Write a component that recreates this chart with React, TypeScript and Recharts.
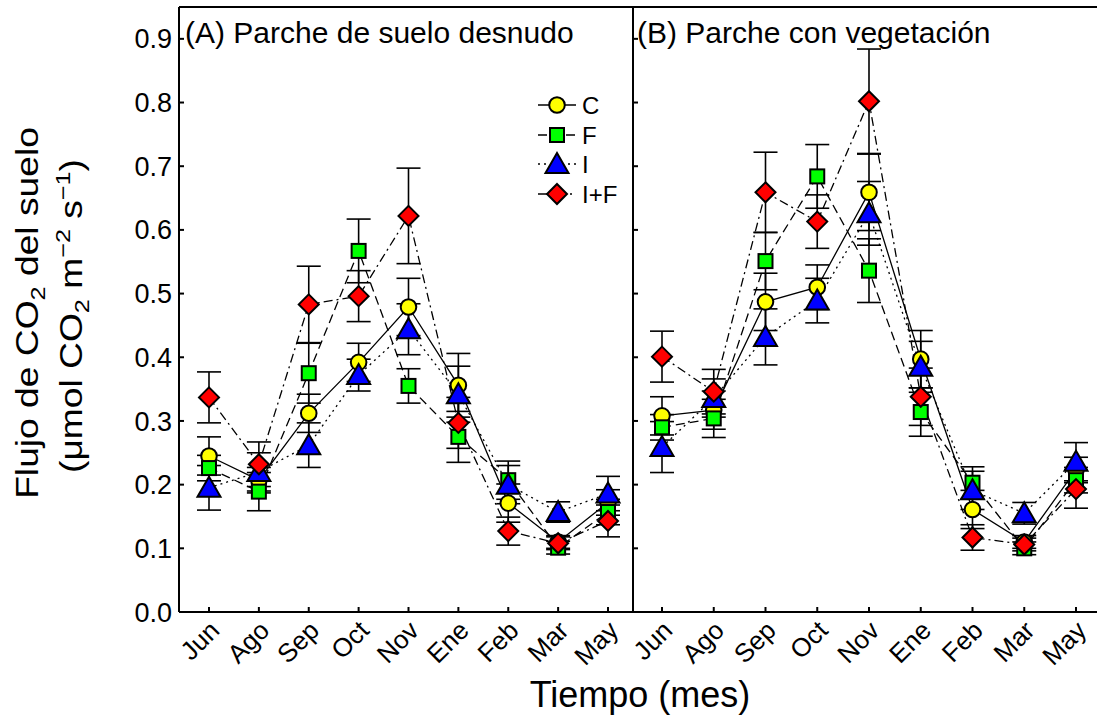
import React from 'react';
import { LineChart, Line, XAxis, YAxis, ErrorBar, ReferenceLine } from 'recharts';

const months = ['Jun', 'Ago', 'Sep', 'Oct', 'Nov', 'Ene', 'Feb', 'Mar', 'May'];
const yTicks = [0, 0.1, 0.2, 0.3, 0.4, 0.5, 0.6, 0.7, 0.8, 0.9];
const yTop = 0.95;

// (A) Parche de suelo desnudo
const bareC = [0.245, 0.207, 0.312, 0.392, 0.479, 0.356, 0.171, 0.11, 0.172];
const bareF = [0.226, 0.189, 0.375, 0.567, 0.355, 0.275, 0.207, 0.101, 0.157];
const bareI = [0.195, 0.22, 0.262, 0.372, 0.444, 0.342, 0.2, 0.157, 0.186];
const bareIF = [0.337, 0.232, 0.483, 0.496, 0.622, 0.297, 0.127, 0.108, 0.143];
const bareSeC = [0.03, 0.02, 0.03, 0.03, 0.045, 0.05, 0.03, 0.01, 0.02];
const bareSeF = [0.02, 0.03, 0.047, 0.05, 0.027, 0.04, 0.03, 0.01, 0.02];
const bareSeI = [0.035, 0.03, 0.035, 0.025, 0.04, 0.044, 0.03, 0.016, 0.027];
const bareSeIF = [0.04, 0.035, 0.06, 0.04, 0.075, 0.04, 0.022, 0.01, 0.025];

// (B) Parche con vegetación
const vegC = [0.308, 0.317, 0.487, 0.51, 0.659, 0.397, 0.161, 0.11, 0.223];
const vegF = [0.29, 0.304, 0.551, 0.684, 0.536, 0.314, 0.203, 0.1, 0.207];
const vegI = [0.259, 0.336, 0.432, 0.489, 0.626, 0.385, 0.191, 0.155, 0.236];
const vegIF = [0.401, 0.346, 0.659, 0.613, 0.802, 0.338, 0.117, 0.106, 0.193];
const vegSeC = [0.03, 0.03, 0.045, 0.035, 0.06, 0.045, 0.03, 0.01, 0.02];
const vegSeF = [0.02, 0.03, 0.045, 0.05, 0.05, 0.038, 0.025, 0.01, 0.02];
const vegSeI = [0.04, 0.03, 0.044, 0.035, 0.05, 0.04, 0.03, 0.017, 0.03];
const vegSeIF = [0.04, 0.035, 0.063, 0.042, 0.082, 0.045, 0.02, 0.01, 0.03];

const buildData = (
  c: number[], f: number[], i: number[], inf: number[],
  sc: number[], sf: number[], si: number[], sif: number[]
) =>
  months.map((m, k) => ({
    month: m, C: c[k], F: f[k], I: i[k], IF: inf[k],
    seC: sc[k], seF: sf[k], seI: si[k], seIF: sif[k],
  }));

const dataA = buildData(bareC, bareF, bareI, bareIF, bareSeC, bareSeF, bareSeI, bareSeIF);
const dataB = buildData(vegC, vegF, vegI, vegIF, vegSeC, vegSeF, vegSeI, vegSeIF);

const FONT = '"Liberation Sans", Arial, Helvetica, sans-serif';
const YELLOW = '#ffff00';
const GREEN = '#00ff00';
const BLUE = '#0000ff';
const RED = '#ff0000';

const circleShape = (cx: number, cy: number, key?: any) => (
  <circle key={key} cx={cx} cy={cy} r={7.8} fill={YELLOW} stroke="#000" strokeWidth={2} />
);
const squareShape = (cx: number, cy: number, key?: any) => (
  <rect key={key} x={cx - 7} y={cy - 7} width={14} height={14} fill={GREEN} stroke="#000" strokeWidth={2} />
);
const triangleShape = (cx: number, cy: number, key?: any) => (
  <polygon key={key} points={`${cx},${cy - 11} ${cx - 11.5},${cy + 9} ${cx + 11.5},${cy + 9}`} fill={BLUE} stroke="#000" strokeWidth={2} strokeLinejoin="miter" />
);
const diamondShape = (cx: number, cy: number, key?: any) => (
  <polygon key={key} points={`${cx},${cy - 10} ${cx + 10},${cy} ${cx},${cy + 10} ${cx - 10},${cy}`} fill={RED} stroke="#000" strokeWidth={2} />
);

const makeDot = (shape: (cx: number, cy: number, key?: any) => any) => (props: any) => {
  const { cx, cy, index } = props;
  if (cx == null || cy == null) return <g key={`e${index}`} />;
  return shape(cx, cy, `d${index}`);
};

const series = [
  { key: 'C', se: 'seC', dash: undefined as string | undefined, shape: circleShape, name: 'C' },
  { key: 'F', se: 'seF', dash: '9 5', shape: squareShape, name: 'F' },
  { key: 'I', se: 'seI', dash: '2 4', shape: triangleShape, name: 'I' },
  { key: 'IF', se: 'seIF', dash: '9 4 2 4', shape: diamondShape, name: 'I+F' },
];

const MonthTick = (props: any) => {
  const { x, y, payload } = props;
  const ax = x + 12;
  const ay = y;
  return (
    <text x={ax} y={ay} textAnchor="end" fontSize={26} fontFamily={FONT} fill="#000"
      transform={`rotate(-45, ${ax}, ${ay})`}>
      {payload.value}
    </text>
  );
};

const renderLines = () =>
  series.map((s) => (
    <Line
      key={s.key}
      dataKey={s.key}
      stroke="#000"
      strokeWidth={1.3}
      strokeDasharray={s.dash}
      dot={makeDot(s.shape)}
      activeDot={false}
      isAnimationActive={false}
    >
      <ErrorBar dataKey={s.se} width={12} stroke="#000" strokeWidth={1.6} direction="y" />
    </Line>
  ));

const Panel = ({ data, width, yAxisWidth, showLabels, padL, padR }: any) => (
  <LineChart width={width} height={718} data={data}
    margin={{ top: 7, right: showLabels ? 7 : 0, bottom: 46, left: 0 }}>
    <XAxis dataKey="month" height={60} padding={{ left: padL, right: padR }}
      axisLine={{ stroke: '#000', strokeWidth: 2 }}
      tickLine={{ stroke: '#000', strokeWidth: 2 }}
      tickSize={-5} tickMargin={25} tick={<MonthTick />} interval={0} />
    <YAxis width={yAxisWidth} domain={[0, yTop]} ticks={yTicks} allowDataOverflow
      axisLine={{ stroke: '#000', strokeWidth: 2 }}
      tickLine={{ stroke: '#000', strokeWidth: 2 }}
      tickSize={-5} tickMargin={12} interval={0}
      tickFormatter={(v: number) => (showLabels ? v.toFixed(1) : '')}
      tick={{ fontSize: 27, fill: '#000', fontFamily: FONT }} />
    <ReferenceLine y={yTop} stroke="#000" strokeWidth={2} ifOverflow="extendDomain" />
    {renderLines()}
  </LineChart>
);

const LegendRows = () => {
  const rows = [
    { s: series[0], y: 105 },
    { s: series[1], y: 135 },
    { s: series[2], y: 164 },
    { s: series[3], y: 194 },
  ];
  return (
    <g>
      {rows.map((r) => (
        <g key={r.s.key}>
          <line x1={538} x2={576} y1={r.y} y2={r.y} stroke="#000" strokeWidth={1.3}
            strokeDasharray={r.s.dash} />
          {r.s.shape(557, r.y)}
          <text x={582} y={r.y} dy="0.36em" fontSize={24} fontFamily={FONT} fill="#000">{r.s.name}</text>
        </g>
      ))}
    </g>
  );
};

export default function App() {
  return (
    <div style={{ position: 'absolute', left: 0, top: 0, width: 1097, height: 718, background: '#fff', overflow: 'hidden' }}>
      <div style={{ position: 'absolute', left: 0, top: 0 }}>
        <Panel data={dataA} width={640} yAxisWidth={179} showLabels padL={30} padR={25} />
      </div>
      <div style={{ position: 'absolute', left: 620, top: 0 }}>
        <Panel data={dataB} width={477} yAxisWidth={13} showLabels={false} padL={29} padR={21} />
      </div>
      <svg width={1097} height={718} style={{ position: 'absolute', left: 0, top: 0, pointerEvents: 'none' }}>
        <text x={185} y={43} fontSize={30} fontFamily={FONT} fill="#000">(A) Parche de suelo desnudo</text>
        <text x={637} y={43} fontSize={30} fontFamily={FONT} fill="#000">(B) Parche con vegetación</text>
        <LegendRows />
        <text x={640} y={707} textAnchor="middle" fontSize={36} fontFamily={FONT} fill="#000">Tiempo (mes)</text>
        <g transform="translate(38,313) rotate(-90) scale(1.2,1)">
          <text x={0} y={0} textAnchor="middle" fontSize={31} fontFamily={FONT} fill="#000">
            Flujo de CO<tspan dy={7} fontSize={21}>2</tspan><tspan dy={-7}> del suelo</tspan>
          </text>
        </g>
        <g transform="translate(82,316) rotate(-90) scale(1.2,1)">
          <text x={0} y={0} textAnchor="middle" fontSize={31} fontFamily={FONT} fill="#000">
            (μmol CO<tspan dy={7} fontSize={21}>2</tspan><tspan dy={-7}> m</tspan><tspan dy={-12} fontSize={21}>−2</tspan><tspan dy={12}> s</tspan><tspan dy={-12} fontSize={21}>−1</tspan><tspan dy={12}>)</tspan>
          </text>
        </g>
      </svg>
    </div>
  );
}
